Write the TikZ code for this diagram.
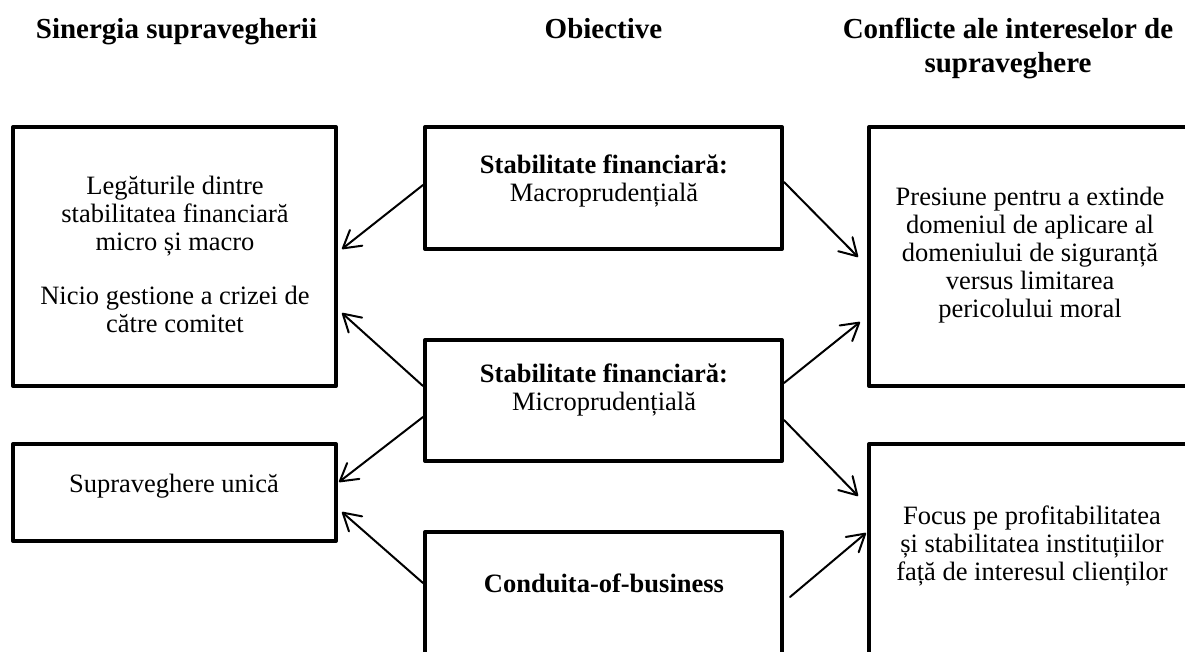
\documentclass[tikz,border=0pt]{standalone}
\usepackage{fontspec}
\setmainfont{Liberation Serif}
\usetikzlibrary{arrows.meta,calc}
\begin{document}
\begin{tikzpicture}[x=1pt,y=-1pt,
  box/.style={draw, line width=4pt, line join=round, inner sep=0pt},
  head/.style={font=\fontsize{29}{34}\selectfont\bfseries, align=center, anchor=base, inner sep=0pt},
  body/.style={font=\fontsize{26.5}{28}\selectfont, align=center, anchor=base, inner sep=0pt},
  arr/.style={line width=2pt, line cap=round,
    -{Straight Barb[length=17pt,width=20pt,line cap=round,line join=round]}}]
\path[use as bounding box, fill=white] (0,0) rectangle (1185,651);
\clip (0,0) rectangle (1185,651);

% column headings (anchored on the baseline of their last line)
\node[head] (hL) at (176.5,38) {Sinergia supravegherii};
\node[head] (hM) at (603.5,38) {Obiective};
\node[head] (hR) at (1008,72) {Conflicte ale intereselor de\\supraveghere};

% boxes
\node[box, minimum width=323pt, minimum height=259pt] (L1) at (174.5,256.5) {};
\node[box, minimum width=323pt, minimum height=97pt]  (L2) at (174.5,492.5) {};
\node[box, minimum width=357pt, minimum height=122pt] (M1) at (603.5,188) {};
\node[box, minimum width=357pt, minimum height=121pt] (M2) at (603.5,400.5) {};
\node[box, minimum width=357pt, minimum height=168pt] (M3) at (603.5,616) {};
\node[box, minimum width=323pt, minimum height=259pt] (R1) at (1030.5,256.5) {};
\node[box, minimum width=323pt, minimum height=256pt] (R2) at (1030.5,572) {};

% box texts (anchored on the baseline of their last line)
\node[body] (tL1) at (175,332) {Legăturile dintre\\stabilitatea financiară\\micro și macro\\[26pt]Nicio gestione a crizei de\\către comitet};
\node[body] (tL2) at (174,492) {Supraveghere unică};
\node[body] (tM1) at (604,201) {\textbf{Stabilitate financiară:}\\Macroprudențială};
\node[body] (tM2) at (604,410) {\textbf{Stabilitate financiară:}\\Microprudențială};
\node[body] (tM3) at (604,592) {\textbf{Conduita-of-business}};
\node[body] (tR1) at (1030,317) {Presiune pentru a extinde\\domeniul de aplicare al\\domeniului de siguranță\\versus limitarea\\pericolului moral};
\node[body] (tR2) at (1032,580) {Focus pe profitabilitatea\\și stabilitatea instituțiilor\\față de interesul clienților};

% connectors
\draw[arr] (M1.west |- 0,185) -- ($(L1.east |- 0,249)+(4,0)$);
\draw[arr] (M2.west |- 0,386) -- ($(L1.east |- 0,313)+(4,0)$);
\draw[arr] (M2.west |- 0,417) -- ($(L2.east |- 0,482)+(1,0)$);
\draw[arr] (M3.west |- 0,583) -- ($(L2.east |- 0,512)+(4,0)$);
\draw[arr] (M1.east |- 0,182) -- ($(R1.west |- 0,257)+(-9,0)$);
\draw[arr] (M2.east |- 0,383) -- ($(R1.west |- 0,322)+(-7,0)$);
\draw[arr] (M2.east |- 0,420) -- ($(R2.west |- 0,496)+(-9,0)$);
\draw[arr] ($(M3.east |- 0,597)+(6,0)$) -- ($(R2.west |- 0,533)+(-1,0)$);
\end{tikzpicture}
\end{document}
